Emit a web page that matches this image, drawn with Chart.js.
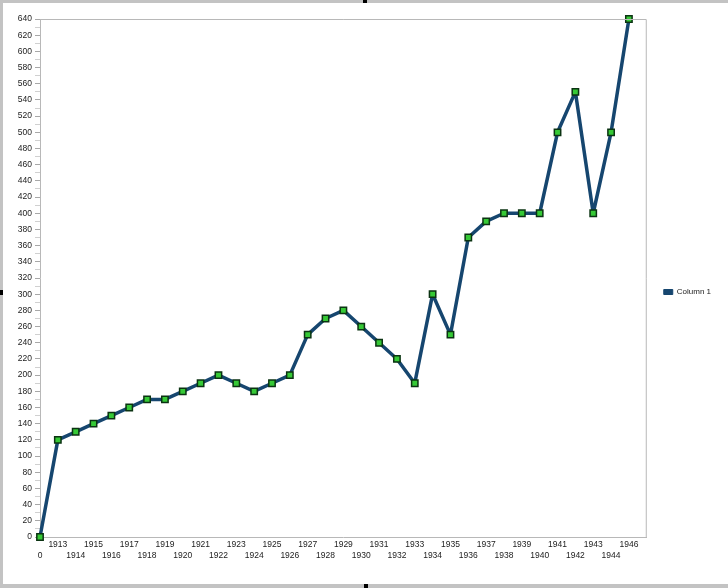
<!DOCTYPE html>
<html>
<head>
<meta charset="utf-8">
<script src="https://cdn.jsdelivr.net/npm/chart.js@4"></script>
<style>
  html, body { margin: 0; padding: 0; background: #ffffff; }
  #wrap { position: relative; width: 728px; height: 588px; overflow: hidden; }
  canvas { position: absolute; left: 0; top: 0; }
  .bar { position: absolute; background: #c3c3c3; }
  .handle { position: absolute; background: #000; }
</style>
</head>
<body>
<div id="wrap">
  <canvas id="c" width="728" height="588"></canvas>
  <div class="bar" style="left:0;top:0;width:728px;height:3px;"></div>
  <div class="bar" style="left:0;top:0;width:3px;height:588px;"></div>
  <div class="bar" style="left:0;top:584px;width:728px;height:4px;"></div>
  <div class="handle" style="left:363px;top:0;width:4px;height:3px;"></div>
  <div class="handle" style="left:0;top:290px;width:3px;height:5px;"></div>
  <div class="handle" style="left:364px;top:584px;width:4px;height:4px;"></div>
</div>
<script>
// ---- data ----
const categories = ["0","1913","1914","1915","1916","1917","1918","1919","1920","1921","1922",
  "1923","1924","1925","1926","1927","1928","1929","1930","1931","1932","1933","1934","1935",
  "1936","1937","1938","1939","1940","1941","1942","1943","1944","1946"];
const column1 = [0,120,130,140,150,160,170,170,180,190,200,
  190,180,190,200,250,270,280,260,240,220,190,300,250,
  370,390,400,400,400,500,550,400,500,640];
const seriesName = "Column 1";
const yMin = 0, yMax = 640, yLabelStep = 20, yTickStep = 10;

const points = column1.map((v, i) => ({ x: i, y: v }));
const FONT = "'Liberation Sans', Arial, sans-serif";
const NAVY = '#16466f';

const frame = {
  id: 'frame',
  afterDraw(chart) {
    const { ctx, chartArea: a } = chart;
    ctx.save();
    ctx.strokeStyle = '#b8b8b8';
    ctx.lineWidth = 1;
    ctx.beginPath();
    ctx.moveTo(a.left, a.top + 0.5);
    ctx.lineTo(a.right - 0.5, a.top + 0.5);
    ctx.lineTo(a.right - 0.5, a.bottom);
    ctx.stroke();
    ctx.restore();
  }
};

new Chart(document.getElementById('c'), {
  type: 'line',
  data: {
    datasets: [{
      label: seriesName,
      data: points,
      borderColor: NAVY,
      backgroundColor: '#3fc43f',
      borderWidth: 3.5,
      borderJoinStyle: 'round',
      tension: 0,
      pointStyle: 'rect',
      pointRadius: 4.5,
      pointBackgroundColor: '#36c936',
      pointBorderColor: '#0b3312',
      pointBorderWidth: 1.5,
      clip: false
    }]
  },
  options: {
    responsive: false,
    animation: false,
    devicePixelRatio: 1,
    layout: { padding: { top: 19, right: 7, bottom: 23, left: 0 } },
    plugins: {
      tooltip: { enabled: false },
      legend: {
        position: 'right',
        align: 'center',
        labels: {
          boxWidth: 9,
          boxHeight: 5,
          padding: 17,
          color: '#222',
          font: { family: FONT, size: 8 },
          generateLabels: (chart) =>
            Chart.defaults.plugins.legend.labels.generateLabels(chart).map(l => ({
              ...l, fillStyle: NAVY, strokeStyle: NAVY, lineWidth: 1
            }))
        }
      }
    },
    scales: {
      x: {
        type: 'linear',
        min: 0,
        max: categories.length,
        afterFit: (s) => { s.height = 28; },
        grid: { drawOnChartArea: false, drawTicks: false },
        border: { color: '#b8b8b8' },
        ticks: {
          stepSize: 1,
          autoSkip: false,
          maxRotation: 0,
          padding: 3,
          color: '#222',
          font: { family: FONT, size: 8.5 },
          callback: (v) => {
            const i = Math.round(v);
            if (i < 0 || i >= categories.length) return '';
            return i % 2 === 1 ? categories[i] : ['', categories[i]];
          }
        }
      },
      y: {
        min: yMin,
        max: yMax,
        afterFit: (s) => { s.width = 40; },
        grid: {
          drawOnChartArea: false,
          tickLength: 5,
          tickColor: (c) => (c.tick && c.tick.value % yLabelStep === 0) ? '#a8a8a8' : '#d0d0d0'
        },
        border: { color: '#b8b8b8' },
        ticks: {
          stepSize: yTickStep,
          autoSkip: false,
          padding: 3,
          color: '#222',
          font: { family: FONT, size: 8.5 },
          callback: (v) => (v % yLabelStep === 0 ? String(v) : '')
        }
      }
    }
  },
  plugins: [frame]
});
</script>
</body>
</html>
